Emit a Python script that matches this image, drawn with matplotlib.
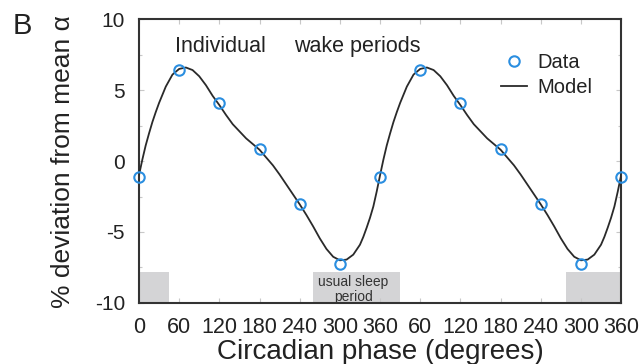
import numpy as np
import matplotlib
matplotlib.use("Agg")
import matplotlib.pyplot as plt
from matplotlib.lines import Line2D

plt.rcParams['font.family'] = ['Liberation Sans', 'DejaVu Sans']

# Data (one circadian cycle, double-plotted)
data_phase = [0, 60, 120, 180, 240, 300]
data_values = [-1.1, 6.45, 4.07, 0.85, -3.03, -7.29]

model_phase = [0, 5, 10, 15, 20, 25, 30, 40, 50, 60, 70, 80, 90, 100, 110, 120, 130, 140,
               150, 160, 170, 180, 190, 200, 210, 220, 230, 240, 250, 260, 270,
               280, 290, 300, 310, 320, 330, 335, 340, 345, 350, 355, 360]
model_values = [-1.0, 0.1, 1.1, 1.95, 2.75, 3.45, 4.1, 5.25, 6.1, 6.5, 6.6, 6.42, 5.98, 5.35, 4.6,
                3.95, 3.25, 2.6, 2.1, 1.6, 1.2, 0.8, 0.25, -0.3, -0.95, -1.65,
                -2.35, -3.05, -3.8, -4.6, -5.45, -6.2, -6.75, -7.0, -6.95, -6.6,
                -5.9, -5.35, -4.7, -4.0, -3.2, -2.15, -1.0]

sleep_spans = [(0, 45), (260, 390), (637, 720)]
tick_positions = list(range(0, 721, 60))
tick_labels = ['0', '60', '120', '180', '240', '300', '360', '60', '120', '180', '240', '300', '360']

fig = plt.figure(figsize=(6.39, 3.64), dpi=100)
ax = fig.add_axes([0.2175, 0.168, 0.7545, 0.779])

for a, b in sleep_spans:
    ax.add_patch(plt.Rectangle((a, -10), b - a, 2.2, facecolor='#d4d4d6',
                               edgecolor='none', zorder=1))

mp = np.array(model_phase)
mv = np.array(model_values)
ax.plot(np.concatenate([mp, mp[1:] + 360]), np.concatenate([mv, mv[1:]]),
        color='#2a2a2a', lw=1.3, zorder=3)

dp = np.array(data_phase)
dv = np.array(data_values)
ax.plot(np.concatenate([dp, dp + 360, [720]]), np.concatenate([dv, dv, [dv[0]]]),
        linestyle='none', marker='o', markersize=7.5, markerfacecolor='none',
        markeredgecolor='#2a8ee0', markeredgewidth=1.5, zorder=4, clip_on=False)

ax.set_xlim(0, 720)
ax.set_ylim(-10, 10)
ax.set_xticks(tick_positions)
ax.set_xticklabels(tick_labels)
ax.set_yticks([-10, -5, 0, 5, 10])
ax.set_yticklabels(['-10', '-5', '0', '5', '10'])
ax.set_yticks(np.arange(-10, 10.1, 2.5), minor=True)
ax.tick_params(axis='both', which='both', direction='in', top=True, right=True,
               color='#c8c8c8', length=3.5, width=0.8, labelcolor='#222222')
ax.tick_params(axis='x', which='major', labelsize=15.5, pad=10)
ax.tick_params(axis='y', which='major', labelsize=15, pad=10)
ax.tick_params(axis='y', which='minor', length=2.5)
for s in ax.spines.values():
    s.set_linewidth(1.5)
    s.set_color('#333333')

ax.set_xlabel('Circadian phase (degrees)', fontsize=20, color='#222222', labelpad=1)
ax.set_ylabel('% deviation from mean α', fontsize=19, color='#222222', labelpad=14)

ax.text(121, 8.1, 'Individual', fontsize=15.5, ha='center', va='center', color='#222222')
ax.text(326, 8.1, 'wake periods', fontsize=15.5, ha='center', va='center', color='#222222')
ax.text(320, -9.05, 'usual sleep\nperiod', fontsize=10, ha='center', va='center',
        color='#333333', linespacing=1.1, zorder=2)

handles = [Line2D([], [], linestyle='none', marker='o', markersize=7.5,
                  markerfacecolor='none', markeredgecolor='#2a8ee0', markeredgewidth=1.5),
           Line2D([], [], color='#2a2a2a', lw=1.3)]
leg = ax.legend(handles, ['Data', 'Model'], loc='upper right', bbox_to_anchor=(0.97, 0.93),
                frameon=False, fontsize=14.5, handlelength=1.3, handletextpad=0.5,
                labelspacing=0.3, borderpad=0.2)
for t in leg.get_texts():
    t.set_color('#222222')

fig.text(0.019, 0.929, 'B', fontsize=21, ha='left', va='center', color='#222222')

fig.savefig('out.png', dpi=100)
